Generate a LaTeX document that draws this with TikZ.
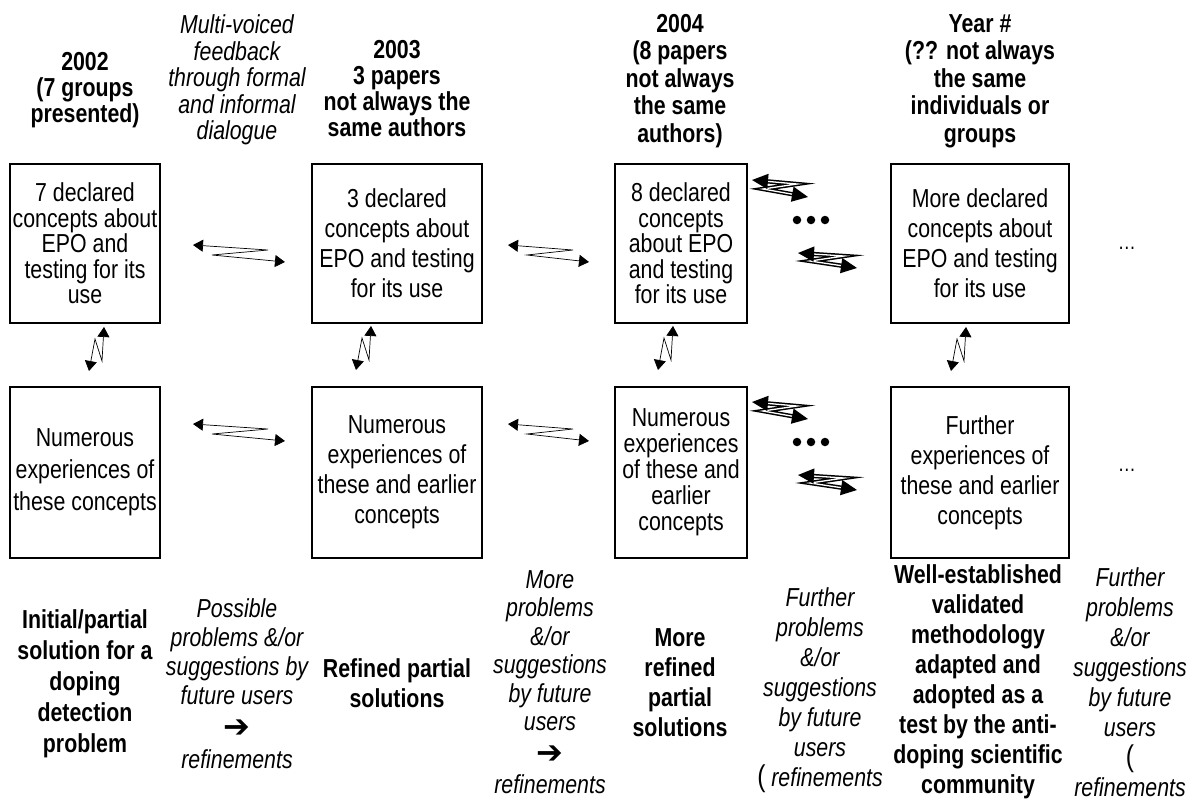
\documentclass[tikz,border=0pt]{standalone}
\usepackage{fontspec}
\setmainfont{Liberation Sans}[FakeStretch=0.82]
\newfontfamily\dvfont{DejaVu Sans}
\usetikzlibrary{arrows.meta}
\begin{document}
\begin{tikzpicture}[x=1pt,y=-1pt,
  box/.style={draw, line width=2.6pt, inner sep=0pt, align=center},
  rs/.style={font=\fontsize{26}{#1}\selectfont},
  hd/.style={align=center, inner sep=0pt, font=\bfseries\fontsize{26}{#1}\selectfont},
  itx/.style={align=center, inner sep=0pt, font=\itshape\fontsize{26}{#1}\selectfont},
  thinar/.style={line width=0.7pt, {Triangle[length=10pt,width=12pt]}-{Triangle[length=10pt,width=12pt]}},
  thickar/.style={double, line width=1.5pt, double distance=1.3pt, {Triangle[length=16pt,width=15pt]}-{Triangle[length=16pt,width=15pt]}},
  dotn/.style={circle, fill, inner sep=0pt, minimum size=8.5pt},
]
\useasboundingbox (0,0) rectangle (1192,804);

% headers
\node[hd=26] (h1) at (85,90) {2002\\(7 groups\\presented)};
\node[itx=26.5] (h2) at (237,80) {Multi-voiced\\feedback\\through formal\\and informal\\dialogue};
\node[hd=26] (h3) at (397,89) {2003\\3 papers\\not always the\\same authors};
\node[hd=27.5] (h4) at (680,81) {2004\\(8 papers\\not always\\the same\\authors)};
\node[hd=27.5] (h5) at (980,81) {Year \#\\(?? not always\\the same\\individuals or\\groups};

% top boxes
\node[box, rs=25.5, minimum width=150pt, minimum height=159pt] (b1) at (85,243.5) {7 declared\\concepts about\\EPO and\\testing for its\\use};
\node[box, rs=30, minimum width=170pt, minimum height=159pt] (b2) at (397,243.5) {3 declared\\concepts about\\EPO and testing\\for its use};
\node[box, rs=25.5, minimum width=132pt, minimum height=159pt] (b3) at (681,243.5) {8 declared\\concepts\\about EPO\\and testing\\for its use};
\node[box, rs=30, minimum width=178pt, minimum height=159pt] (b4) at (980,243.5) {More declared\\concepts about\\EPO and testing\\for its use};

% bottom boxes
\node[box, rs=32, minimum width=150pt, minimum height=171pt] (b5) at (85,472.5) {Numerous\\experiences of\\these concepts};
\node[box, rs=30, minimum width=170pt, minimum height=171pt] (b6) at (397,472.5) {Numerous\\experiences of\\these and earlier\\concepts};
\node[box, rs=26, minimum width=132pt, minimum height=171pt] (b7) at (681,472.5) {Numerous\\experiences\\of these and\\earlier\\concepts};
\node[box, rs=30, minimum width=178pt, minimum height=171pt] (b8) at (980,472.5) {Further\\experiences of\\these and earlier\\concepts};

% ellipses at the right
\node[inner sep=0pt, font=\fontsize{22}{22}\selectfont] (e1) at (1127,248) {…};
\node[inner sep=0pt, font=\fontsize{22}{22}\selectfont] (e2) at (1127,470) {…};

% bottom texts
\node[hd=31] (t1) at (85,684) {Initial/partial\\solution for a\\doping\\detection\\problem};
\node[itx=29] (t2) at (237,684) {Possible\\problems \&/or\\suggestions by\\future users\\[4pt]{\upshape\dvfont\fontsize{32}{30}\selectfont ➔}\\[2pt]refinements};
\node[hd=30] (t3) at (397,683) {Refined partial\\solutions};
\node[itx=28.5] (t4) at (550,682) {More\\problems\\\&/or\\suggestions\\by future\\users\\[4pt]{\upshape\dvfont\fontsize{32}{30}\selectfont ➔}\\[2pt]refinements};
\node[hd=30] (t5) at (680,683) {More\\refined\\partial\\solutions};
\node[itx=30] (t6) at (820,690) {Further\\problems\\\&/or\\suggestions\\by future\\users\\{\upshape\fontsize{30}{30}\selectfont(} refinements};
\node[hd=30] (t7) at (978,682) {Well-established\\validated\\methodology\\adapted and\\adopted as a\\test by the anti-\\doping scientific\\community};
\node[itx=30] (t8) at (1130,682) {Further\\problems\\\&/or\\suggestions\\by future\\users\\{\upshape\fontsize{30}{30}\selectfont(}\\refinements};

% thin horizontal zigzag arrows
\coordinate (a1L) at (193,245); \coordinate (a1R) at (285,262);
\coordinate (a2L) at (508,245); \coordinate (a2R) at (589,262);
\coordinate (a3L) at (193,424); \coordinate (a3R) at (285,441);
\coordinate (a4L) at (508,424); \coordinate (a4R) at (589,441);
\draw[thinar] (a1L) -- ++(75,5) -- ++(-56,5) -- (a1R);
\draw[thinar] (a2L) -- ++(65,5) -- ++(-46,5) -- (a2R);
\draw[thinar] (a3L) -- ++(75,5) -- ++(-56,5) -- (a3R);
\draw[thinar] (a4L) -- ++(65,5) -- ++(-46,5) -- (a4R);

% thick zigzag arrows between column 3 and column 4
\coordinate (k1L) at (752,180); \coordinate (k1R) at (808,197);
\coordinate (k2L) at (798,253); \coordinate (k2R) at (857,268);
\coordinate (k3L) at (752,402); \coordinate (k3R) at (808,419);
\coordinate (k4L) at (798,475); \coordinate (k4R) at (857,490);
\draw[thickar] (k1L) -- ++(45,4) -- ++(-34,5) -- (k1R);
\draw[thickar] (k2L) -- ++(46,3) -- ++(-34,5) -- (k2R);
\draw[thickar] (k3L) -- ++(45,4) -- ++(-34,5) -- (k3R);
\draw[thickar] (k4L) -- ++(46,3) -- ++(-34,5) -- (k4R);

% dots
\node[dotn] (d1) at (797,220) {}; \node[dotn] (d2) at (811,220) {}; \node[dotn] (d3) at (825,220) {};
\node[dotn] (d4) at (797,442) {}; \node[dotn] (d5) at (811,442) {}; \node[dotn] (d6) at (825,442) {};

% vertical zigzag arrows
\coordinate (v1U) at (104,327); \coordinate (v1D) at (89,371);
\coordinate (v2U) at (371,326); \coordinate (v2D) at (356,370);
\coordinate (v3U) at (673,326); \coordinate (v3D) at (658,370);
\coordinate (v4U) at (966,327); \coordinate (v4D) at (951,371);
\draw[thinar] (v1U) -- ++(-2,34) -- ++(-7,-22) -- (v1D);
\draw[thinar] (v2U) -- ++(-2,34) -- ++(-7,-22) -- (v2D);
\draw[thinar] (v3U) -- ++(-2,34) -- ++(-7,-22) -- (v3D);
\draw[thinar] (v4U) -- ++(-2,34) -- ++(-7,-22) -- (v4D);
\end{tikzpicture}
\end{document}
